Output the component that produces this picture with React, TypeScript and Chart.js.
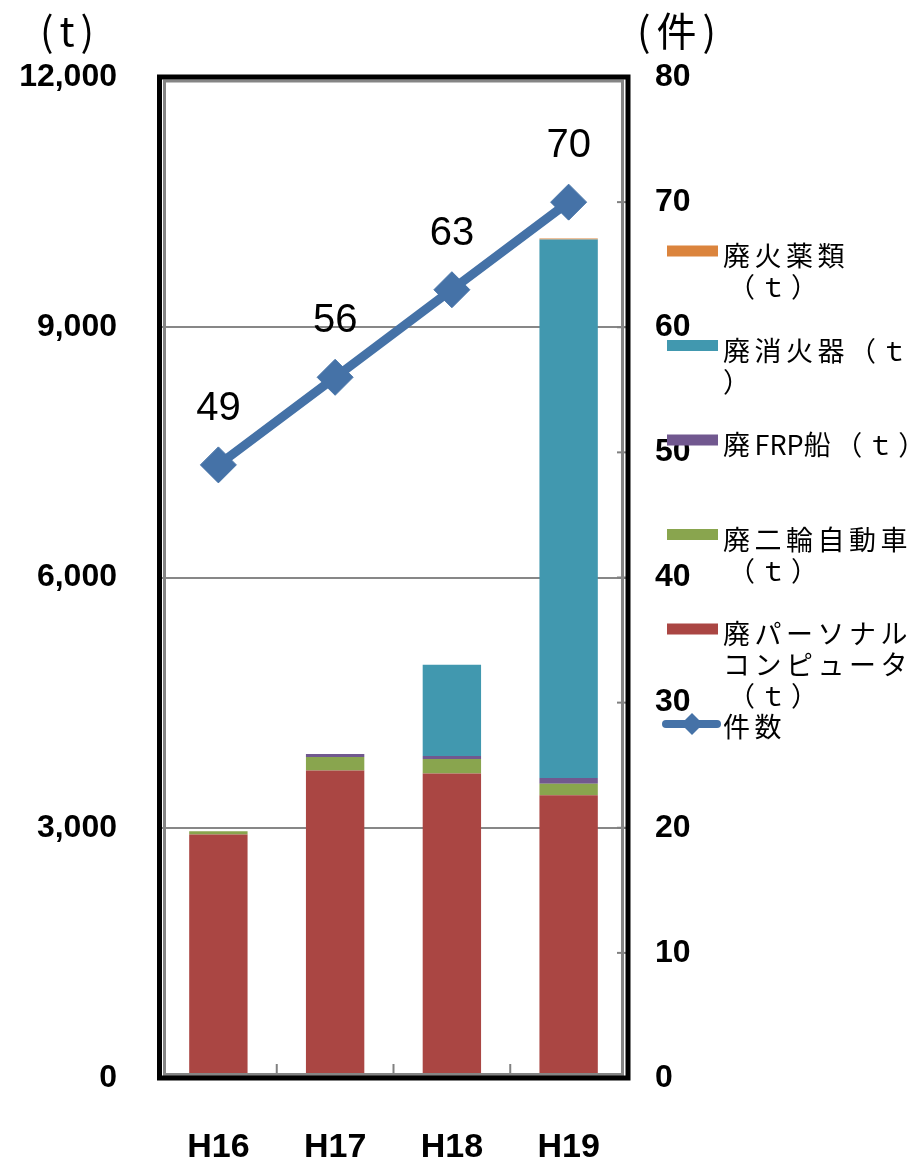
import { useEffect, useRef } from 'react';
import { Chart, registerables } from 'chart.js';

Chart.register(...registerables);

// ---- data ----
const categories = ['H16', 'H17', 'H18', 'H19'];
const pcTons = [2920, 3685, 3650, 3390];
const motorcycleTons = [37, 164, 175, 137];
const frpBoatTons = [0, 36, 36, 68];
const extinguisherTons = [0, 0, 1094, 6458];
const explosivesTons = [0, 0, 0, 12];
const caseCounts = [49, 56, 63, 70];

const leftMax = 12000;
const leftStep = 3000;
const rightMax = 80;
const rightStep = 10;

const leftAxisTitle = '(t)';
const rightAxisTitle = '(件)';

// legend text, wrapped as in the reference
const pcLegend = ['廃パーソナル', 'コンピュータ', '（ｔ）'];
const motorcycleLegend = ['廃二輪自動車', '（ｔ）'];
const frpLegend = ['廃FRP船（ｔ）'];
const extinguisherLegend = ['廃消火器（ｔ', '）'];
const explosivesLegend = ['廃火薬類', '（ｔ）'];
const countLegend = ['件数'];

const RED = '#AA4643';
const GREEN = '#89A54E';
const PURPLE = '#71588F';
const CYAN = '#4198AF';
const ORANGE = '#DB843D';
const BLUE = '#4572A7';

function drawSpaced(ctx: CanvasRenderingContext2D, text: string, x: number, y: number, spacing: number, wideOnly: boolean) {
  let cx = x;
  for (const ch of Array.from(text)) {
    ctx.fillText(ch, cx, y);
    const wide = ch.charCodeAt(0) > 0x2000;
    cx += ctx.measureText(ch).width + (!wideOnly || wide ? spacing : 0);
  }
}

const framePlugin = {
  id: 'framePlugin',
  afterDraw(chart: any) {
    const ctx = chart.ctx as CanvasRenderingContext2D;
    const a = chart.chartArea;
    const xs = chart.scales.x;
    const y1 = chart.scales.y1;
    ctx.save();
    // category boundary ticks
    ctx.strokeStyle = '#808080';
    ctx.lineWidth = 2;
    for (let i = 0; i < categories.length - 1; i++) {
      const bx = (xs.getPixelForTick(i) + xs.getPixelForTick(i + 1)) / 2;
      ctx.beginPath();
      ctx.moveTo(bx, a.bottom - 4);
      ctx.lineTo(bx, a.bottom - 14);
      ctx.stroke();
    }
    // right axis inner ticks
    for (let v = 0; v <= rightMax; v += rightStep) {
      const py = y1.getPixelForValue(v);
      ctx.beginPath();
      ctx.moveTo(a.right - 10, py);
      ctx.lineTo(a.right, py);
      ctx.stroke();
    }
    // grey inner frame
    ctx.strokeStyle = '#858585';
    ctx.lineWidth = 3;
    ctx.strokeRect(a.left + 4.5, a.top + 4, a.right - a.left - 9, a.bottom - a.top - 7.5);
    // black outer frame
    ctx.strokeStyle = '#000';
    ctx.lineWidth = 5;
    ctx.strokeRect(a.left - 0.5, a.top, a.right - a.left + 1.5, a.bottom - a.top);

    // data labels for line
    const lineIdx = chart.data.datasets.findIndex((d: any) => d.type === 'line');
    const meta = chart.getDatasetMeta(lineIdx);
    ctx.fillStyle = '#000';
    ctx.font = '40px "Liberation Sans", sans-serif';
    ctx.textAlign = 'center';
    ctx.textBaseline = 'middle';
    meta.data.forEach((pt: any, i: number) => {
      ctx.fillText(String(chart.data.datasets[lineIdx].data[i]), pt.x, pt.y - 56);
    });

    // axis titles
    ctx.textAlign = 'left';
    ctx.font = '40px "Noto Sans CJK JP", sans-serif';
    drawSpaced(ctx, leftAxisTitle, 40, 31, 6, false);
    drawSpaced(ctx, rightAxisTitle, 637, 31, 6, false);

    // legend
    const order = [4, 3, 2, 1, 0];
    ctx.font = '27px "Noto Sans CJK JP", sans-serif';
    ctx.textBaseline = 'middle';
    order.forEach((di, i) => {
      const ds = chart.data.datasets[di];
      const cy = 251 + 94.5 * i;
      ctx.fillStyle = ds.backgroundColor;
      ctx.fillRect(667, cy - 5.5, 51, 11);
      ctx.fillStyle = '#000';
      (ds.legendLines as string[]).forEach((line, li) => {
        const lx = li === 0 ? 723 : (line.startsWith('（') ? 728 : 723);
        drawSpaced(ctx, line, lx, cy + 5 + li * 31, 4.5, true);
      });
    });
    // line legend
    const lds = chart.data.datasets[lineIdx];
    const ly = 724;
    ctx.strokeStyle = lds.borderColor;
    ctx.lineWidth = 8;
    ctx.lineCap = 'round';
    ctx.beginPath();
    ctx.moveTo(666, ly);
    ctx.lineTo(717, ly);
    ctx.stroke();
    ctx.fillStyle = lds.borderColor;
    ctx.beginPath();
    ctx.moveTo(692 - 11, ly);
    ctx.lineTo(692, ly - 11);
    ctx.lineTo(692 + 11, ly);
    ctx.lineTo(692, ly + 11);
    ctx.closePath();
    ctx.fill();
    ctx.fillStyle = '#000';
    drawSpaced(ctx, (lds.legendLines as string[])[0], 723, ly + 3, 4.5, true);
    ctx.restore();
  },
};

export default function App() {
  const ref = useRef<HTMLCanvasElement>(null);
  useEffect(() => {
    if (!ref.current) return;
    const barBase = { type: 'bar' as const, yAxisID: 'y', stack: 's', order: 1, barPercentage: 0.5, categoryPercentage: 1, borderWidth: 0 };
    const chart = new Chart(ref.current, {
      type: 'bar',
      data: {
        labels: categories,
        datasets: [
          { ...barBase, label: '廃パーソナルコンピュータ（ｔ）', data: pcTons, backgroundColor: RED, legendLines: pcLegend } as any,
          { ...barBase, label: '廃二輪自動車（ｔ）', data: motorcycleTons, backgroundColor: GREEN, legendLines: motorcycleLegend } as any,
          { ...barBase, label: '廃FRP船（ｔ）', data: frpBoatTons, backgroundColor: PURPLE, legendLines: frpLegend } as any,
          { ...barBase, label: '廃消火器（ｔ）', data: extinguisherTons, backgroundColor: CYAN, legendLines: extinguisherLegend } as any,
          { ...barBase, label: '廃火薬類（ｔ）', data: explosivesTons, backgroundColor: ORANGE, legendLines: explosivesLegend } as any,
          {
            type: 'line',
            label: '件数',
            data: caseCounts,
            yAxisID: 'y1',
            order: 0,
            borderColor: BLUE,
            backgroundColor: BLUE,
            borderWidth: 9,
            pointStyle: 'rectRot',
            pointRadius: 18,
            pointBackgroundColor: BLUE,
            pointBorderColor: BLUE,
            pointBorderWidth: 1,
            tension: 0,
            legendLines: countLegend,
          } as any,
        ],
      },
      options: {
        responsive: false,
        animation: false,
        layout: { padding: { top: 77, left: 0, right: 0, bottom: 0 }, autoPadding: false },
        plugins: { legend: { display: false }, tooltip: { enabled: false } },
        scales: {
          x: {
            stacked: true,
            offset: true,
            grid: { display: false, drawTicks: false },
            border: { display: false },
            ticks: { color: '#000', font: { family: '"Liberation Sans", sans-serif', size: 34, weight: 'bold' }, padding: 49 },
            afterFit: (s: any) => { s.height = 83; },
          },
          y: {
            stacked: true,
            position: 'left',
            min: 0,
            max: leftMax,
            ticks: {
              stepSize: leftStep,
              color: '#000',
              font: { family: '"Liberation Sans", sans-serif', size: 32, weight: 'bold' },
              padding: 43,
              callback: (v: any) => Number(v).toLocaleString('en-US'),
            },
            grid: { color: '#878787', lineWidth: 2, drawTicks: false },
            border: { display: false },
            afterFit: (s: any) => { s.width = 160; },
          },
          y1: {
            position: 'right',
            min: 0,
            max: rightMax,
            ticks: {
              stepSize: rightStep,
              color: '#000',
              font: { family: '"Liberation Sans", sans-serif', size: 32, weight: 'bold' },
              padding: 28,
            },
            grid: { display: false, drawTicks: false },
            border: { display: false },
            afterFit: (s: any) => { s.width = 290; },
          },
        },
      },
      plugins: [framePlugin],
    });
    return () => chart.destroy();
  }, []);
  return (
    <div style={{ position: 'fixed', left: 0, top: 0, width: 917, height: 1161, background: '#fff' }}>
      <canvas ref={ref} width={917} height={1161} />
    </div>
  );
}
